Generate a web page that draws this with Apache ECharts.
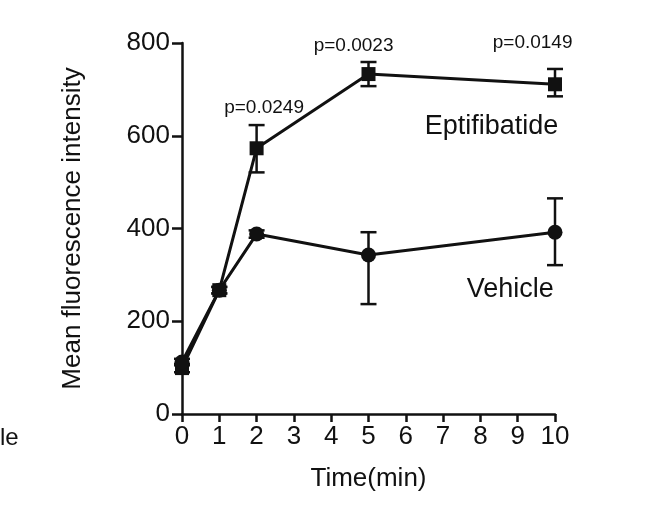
<!DOCTYPE html>
<html>
<head>
  <meta charset="utf-8">
  <script src="https://cdn.jsdelivr.net/npm/echarts@6/dist/echarts.min.js"></script>
</head>
<body style="margin:0">
  <div id="main" style="width:664px;height:512px;"></div>
  <script type="text/javascript">
    var times = [0, 1, 2, 5, 10];
    var eptiMean = [99, 267, 573, 733, 711];
    var eptiLow = [90, 260, 521, 707, 685];
    var eptiHigh = [108, 274, 623, 759, 744];
    var vehMean = [112, 267, 388, 343, 392];
    var vehLow = [105, 260, 380, 237, 321];
    var vehHigh = [119, 274, 396, 392, 465];
    var pLabels = [['p=0.0249', 2.2, 660], ['p=0.0023', 4.6, 795], ['p=0.0149', 9.4, 800]];
    var seriesLabels = [['Eptifibatide', 8.3, 620], ['Vehicle', 8.8, 268]];

    var myChart = echarts.init(document.getElementById('main'));
    var font = 'Liberation Sans, Arial, sans-serif';

    function pairs(ys) { return times.map(function (t, i) { return [t, ys[i]]; }); }
    function errData(lo, hi) { return times.map(function (t, i) { return [t, lo[i], hi[i]]; }); }
    function errSeries(lo, hi) {
      return {
        type: 'custom', z: 1,
        data: errData(lo, hi),
        renderItem: function (params, api) {
          var a = api.coord([api.value(0), api.value(1)]);
          var b = api.coord([api.value(0), api.value(2)]);
          var w = 8, st = { stroke: '#111', lineWidth: 2.5 };
          return { type: 'group', children: [
            { type: 'line', shape: { x1: a[0], y1: a[1], x2: b[0], y2: b[1] }, style: st },
            { type: 'line', shape: { x1: a[0] - w, y1: a[1], x2: a[0] + w, y2: a[1] }, style: st },
            { type: 'line', shape: { x1: b[0] - w, y1: b[1], x2: b[0] + w, y2: b[1] }, style: st }
          ] };
        }
      };
    }
    function textSeries(list, size) {
      return {
        type: 'custom', z: 5, silent: true, clip: false,
        data: list.map(function (p) { return [p[1], p[2], p[0]]; }),
        renderItem: function (params, api) {
          var c = api.coord([api.value(0), api.value(1)]);
          return { type: 'text', x: c[0], y: c[1], style: {
            text: list[params.dataIndex][0], fill: '#111', fontSize: size,
            fontFamily: font, align: 'center', verticalAlign: 'middle' } };
        }
      };
    }

    var option = {
      animation: false,
      grid: { left: 182, right: 109, top: 43, bottom: 98 },
      xAxis: {
        type: 'value', min: 0, max: 10, interval: 1,
        name: 'Time(min)', nameLocation: 'middle', nameGap: 52,
        nameTextStyle: { fontSize: 26, color: '#111', fontFamily: font },
        axisLine: { lineStyle: { color: '#111', width: 2.5 } },
        axisTick: { length: 8, lineStyle: { width: 2.5 } },
        axisLabel: { fontSize: 26, color: '#111', fontFamily: font, margin: 10 },
        splitLine: { show: false }
      },
      yAxis: {
        type: 'value', min: 0, max: 800, interval: 200,
        name: 'Mean fluorescence intensity', nameLocation: 'middle', nameGap: 96,
        nameTextStyle: { fontSize: 26, color: '#111', fontFamily: font },
        axisLine: { show: true, lineStyle: { color: '#111', width: 2.5 } },
        axisTick: { show: true, length: 10, lineStyle: { width: 2.5 } },
        axisLabel: { fontSize: 26, color: '#111', fontFamily: font, margin: 12 },
        splitLine: { show: false }
      },
      graphic: [
        { type: 'text', left: 0, top: 426, style: { text: 'le', fontSize: 24, fill: '#111', fontFamily: font } }
      ],
      series: [
        errSeries(eptiLow, eptiHigh),
        errSeries(vehLow, vehHigh),
        {
          name: 'Eptifibatide', type: 'line', data: pairs(eptiMean), z: 3,
          symbol: 'rect', symbolSize: 14, itemStyle: { color: '#111' },
          lineStyle: { color: '#111', width: 3 }
        },
        {
          name: 'Vehicle', type: 'line', data: pairs(vehMean), z: 3,
          symbol: 'circle', symbolSize: 15, itemStyle: { color: '#111' },
          lineStyle: { color: '#111', width: 3 }
        },
        textSeries(pLabels, 19),
        textSeries(seriesLabels, 27)
      ]
    };
    myChart.setOption(option);
  </script>
</body>
</html>
